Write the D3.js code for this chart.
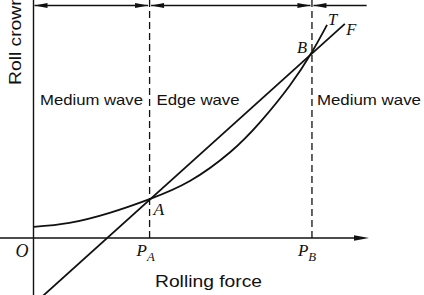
<!DOCTYPE html>
<html>
<head>
<meta charset="utf-8">
<script src="https://cdn.jsdelivr.net/npm/d3@7"></script>
<style>
  body { margin: 0; background: #fff; }
  svg { display: block; }
</style>
</head>
<body>
<svg id="drawing_region"></svg>
<script>
// force values where the regions change
const pA = 3.46;
const pB = 8.3;

// roll crown curve (ends at label T)
const curveX = [0, 1.07, 2.27, 3.46, 4.66, 5.85, 6.75, 7.64, 8.3, 8.75];
const curveY = [0.33, 0.45, 0.75, 1.16, 1.7, 2.55, 3.45, 4.55, 5.55, 6.36];

// straight line (ends at label F)
const lineX = [0.2, 9.28];
const lineY = [-1.8, 6.39];

const regionNames = ['Medium wave', 'Edge wave', 'Medium wave'];
const regionStart = [0, pA, pB];
const regionWidths = [103, 83, 104];

const width = 424, height = 295;
const ink = '#111';

const svg = d3.select('#drawing_region')
    .attr('width', width)
    .attr('height', height);

const xscale = d3.scaleLinear().domain([0, 10]).range([33.5, 369]);
const yscale = d3.scaleLinear().domain([-1.7, 7.1]).range([295, 0]);

const y0 = yscale(0);

// filled arrow head, tip at (x, y), dir = 1 points right, -1 left
function arrowHead(x, y, dir, len, half){
    svg.append('path')
        .attr('d', `M${x},${y} L${x - dir*len},${y - half} L${x - dir*len},${y + half} Z`)
        .attr('fill', ink);
}

// axes
svg.append('line')
    .attr('x1', 0).attr('x2', xscale(10) - 6)
    .attr('y1', y0).attr('y2', y0)
    .attr('stroke', ink).attr('stroke-width', 1.4);
arrowHead(xscale(10), y0, 1, 15, 2.8);

svg.append('line')
    .attr('x1', xscale(0)).attr('x2', xscale(0))
    .attr('y1', 0).attr('y2', height)
    .attr('stroke', ink).attr('stroke-width', 1.4);

// dashed boundaries
[pA, pB].forEach(p => {
    svg.append('line')
        .attr('x1', xscale(p)).attr('x2', xscale(p))
        .attr('y1', 0).attr('y2', y0)
        .attr('stroke', ink).attr('stroke-width', 1.3)
        .attr('stroke-dasharray', '7,4');
});

// dimension lines on top
const dimY = 5.5;
const dimEnds = [[0, pA], [pA, pB], [pB, 9.93]];
dimEnds.forEach((d, i) => {
    const a = xscale(d[0]) + (i == 0 ? 1 : 1.5);
    const b = xscale(d[1]) - (i == 2 ? 0 : 1.5);
    svg.append('line')
        .attr('x1', a).attr('x2', b)
        .attr('y1', dimY).attr('y2', dimY)
        .attr('stroke', ink).attr('stroke-width', 1.3);
    arrowHead(a, dimY, -1, 13, 2.6);
    if(i < 2) arrowHead(b, dimY, 1, 13, 2.6);
});

// curve and line
const curveData = curveX.map((x, i) => ({x: x, y: curveY[i]}));
const lineData = lineX.map((x, i) => ({x: x, y: lineY[i]}));

const lineGen = d3.line()
    .x(d => xscale(d.x))
    .y(d => yscale(d.y));

svg.append('path')
    .attr('d', lineGen.curve(d3.curveNatural)(curveData))
    .attr('fill', 'none').attr('stroke', ink).attr('stroke-width', 1.8);

svg.append('path')
    .attr('d', lineGen.curve(d3.curveLinear)(lineData))
    .attr('fill', 'none').attr('stroke', ink).attr('stroke-width', 1.8);

// region labels
const sans = 'Liberation Sans, Arial, sans-serif';
regionNames.forEach((name, i) => {
    svg.append('text')
        .attr('x', xscale(regionStart[i]) + (i == 0 ? 6.5 : i == 1 ? 7 : 5))
        .attr('y', 105)
        .attr('font-family', sans)
        .attr('font-size', 14.5)
        .attr('textLength', regionWidths[i])
        .attr('lengthAdjust', 'spacingAndGlyphs')
        .attr('fill', ink)
        .text(name);
});

// axis titles
svg.append('text')
    .attr('transform', 'translate(21, 85) rotate(-90)')
    .attr('font-family', sans)
    .attr('font-size', 16.5)
    .attr('textLength', 90)
    .attr('lengthAdjust', 'spacingAndGlyphs')
    .attr('fill', ink)
    .text('Roll crown');

svg.append('text')
    .attr('x', 155).attr('y', 287)
    .attr('font-family', sans)
    .attr('font-size', 16)
    .attr('textLength', 107)
    .attr('lengthAdjust', 'spacingAndGlyphs')
    .attr('fill', ink)
    .text('Rolling force');

// italic symbols
const serif = 'Liberation Serif, Times New Roman, serif';
function symbol(x, y, txt, size, sub){
    const t = svg.append('text')
        .attr('x', x).attr('y', y)
        .attr('font-family', serif)
        .attr('font-style', 'italic')
        .attr('font-size', size)
        .attr('fill', ink)
        .text(txt);
    if(sub){
        t.append('tspan')
            .attr('dy', 5.5)
            .attr('font-size', size * 0.75)
            .text(sub);
    }
}

symbol(xscale(0) - 18, 257, 'O', 18);
symbol(xscale(pA) - 13, 255.5, 'P', 17, 'A');
symbol(xscale(pB) - 14, 255.5, 'P', 17, 'B');
symbol(xscale(pA) + 4, 215, 'A', 17.5);
symbol(xscale(pB) - 15, 52.5, 'B', 16.5);
symbol(xscale(8.75) + 1, 25, 'T', 16.5);
symbol(xscale(9.28) + 1.5, 35, 'F', 16.5);
</script>
</body>
</html>
